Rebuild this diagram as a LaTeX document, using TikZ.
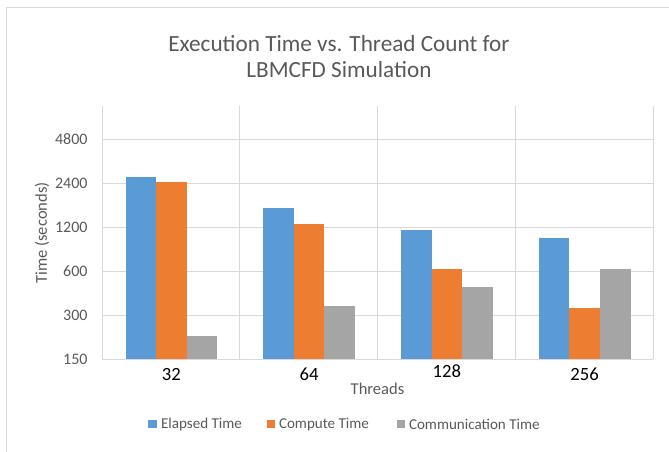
\documentclass[tikz,border=0pt]{standalone}
\usepackage{fontspec}
\setmainfont{Carlito}

\definecolor{gridgray}{HTML}{D9D9D9}
\definecolor{txtgray}{HTML}{595959}
\definecolor{elapsedblue}{HTML}{5B9BD5}
\definecolor{computeorange}{HTML}{ED7D31}
\definecolor{commgray}{HTML}{A5A5A5}

\tikzset{every picture/.style={line width=0.75pt}}
\tikzset{
  gridline/.style={draw=gridgray},
  elapsed/.style={fill=elapsedblue},
  compute/.style={fill=computeorange},
  comm/.style={fill=commgray},
  titletext/.style={anchor=base,inner sep=0.75pt,text=txtgray,font=\fontsize{17.4}{21}\selectfont},
  ticklabel/.style={anchor=east,inner sep=0.75pt,text=txtgray,font=\fontsize{12}{14}\selectfont},
  catlabel/.style={inner sep=0.75pt,font=\fontsize{14}{16}\selectfont},
  axistitle/.style={inner sep=0.75pt,text=txtgray,font=\fontsize{12.4}{15}\selectfont},
  legendtext/.style={anchor=west,inner sep=0pt,text=txtgray,font=\fontsize{11.3}{13}\selectfont},
}

\begin{document}
\begin{tikzpicture}[x=0.75pt,y=0.75pt,yscale=-1,xscale=1]
\useasboundingbox (0,0) rectangle (669,451);

%Shape: Rectangle [chart frame, runs off the page]
\begin{scope}
\clip (0,0) rectangle (669,451);
\draw [gridline] (6,7) -- (700,7) -- (700,480) -- (6,480) -- cycle ;
\end{scope}

%Straight Lines [horizontal grid]
\draw [gridline] (102,139) -- (653,139) ;
\draw [gridline] (102,183) -- (653,183) ;
\draw [gridline] (102,227) -- (653,227) ;
\draw [gridline] (102,271) -- (653,271) ;
\draw [gridline] (102,315) -- (653,315) ;
%Straight Lines [vertical grid]
\draw [gridline] (102,106) -- (102,359) ;
\draw [gridline] (239.75,106) -- (239.75,359) ;
\draw [gridline] (377.5,106) -- (377.5,359) ;
\draw [gridline] (515.25,106) -- (515.25,359) ;
\draw [gridline] (653,106) -- (653,359) ;

%Shape: Bars [32]
\fill [elapsed] (125.5,176.7) -- (156.1,176.7) -- (156.1,359) -- (125.5,359) -- cycle ;
\fill [compute] (156.1,182.3) -- (186.7,182.3) -- (186.7,359) -- (156.1,359) -- cycle ;
\fill [comm] (186.7,335.7) -- (217.3,335.7) -- (217.3,359) -- (186.7,359) -- cycle ;
%Shape: Bars [64]
\fill [elapsed] (263.2,207.7) -- (293.8,207.7) -- (293.8,359) -- (263.2,359) -- cycle ;
\fill [compute] (293.8,224) -- (324.4,224) -- (324.4,359) -- (293.8,359) -- cycle ;
\fill [comm] (324.4,305.7) -- (355,305.7) -- (355,359) -- (324.4,359) -- cycle ;
%Shape: Bars [128]
\fill [elapsed] (401,230) -- (431.6,230) -- (431.6,359) -- (401,359) -- cycle ;
\fill [compute] (431.6,269.3) -- (462.2,269.3) -- (462.2,359) -- (431.6,359) -- cycle ;
\fill [comm] (462.2,286.7) -- (492.8,286.7) -- (492.8,359) -- (462.2,359) -- cycle ;
%Shape: Bars [256]
\fill [elapsed] (538.7,238.3) -- (569.3,238.3) -- (569.3,359) -- (538.7,359) -- cycle ;
\fill [compute] (569.3,308.3) -- (599.9,308.3) -- (599.9,359) -- (569.3,359) -- cycle ;
\fill [comm] (599.9,268.7) -- (630.5,268.7) -- (630.5,359) -- (599.9,359) -- cycle ;

%Straight Lines [axis]
\draw [gridline] (102,359) -- (653,359) ;

% Text Node
\draw (339,51) node [titletext] (ttl1) {Execution Time vs. Thread Count for};
% Text Node
\draw (339,77) node [titletext] (ttl2) {LBMCFD Simulation};

% Text Node
\draw (89,139) node [ticklabel] (t4800) {4800};
% Text Node
\draw (89,183) node [ticklabel] (t2400) {2400};
% Text Node
\draw (89,227) node [ticklabel] (t1200) {1200};
% Text Node
\draw (89,271) node [ticklabel] (t600) {600};
% Text Node
\draw (89,315) node [ticklabel] (t300) {300};
% Text Node
\draw (89,359) node [ticklabel] (t150) {150};

% Text Node
\draw (42,233) node [axistitle,rotate=90] (ytitle) {Time (seconds)};

% Text Node
\draw (171.4,374) node [catlabel] (c32) {32};
% Text Node
\draw (309.1,374) node [catlabel] (c64) {64};
% Text Node
\draw (446.9,371) node [catlabel] (c128) {128};
% Text Node
\draw (584.6,374) node [catlabel] (c256) {256};
% Text Node
\draw (377.5,389) node [axistitle] (xtitle) {Threads};

%Shape: Legend keys
\fill [elapsed] (148.3,420) -- (156.7,420) -- (156.7,428.3) -- (148.3,428.3) -- cycle ;
\fill [compute] (266.7,420) -- (275,420) -- (275,428.3) -- (266.7,428.3) -- cycle ;
\fill [comm] (396.7,420) -- (405,420) -- (405,428.3) -- (396.7,428.3) -- cycle ;
% Text Node
\draw (160.5,424.5) node [legendtext] (lelapsed) {Elapsed Time};
% Text Node
\draw (278.5,424.5) node [legendtext] (lcompute) {Compute Time};
% Text Node
\draw (408.5,424.5) node [legendtext] (lcomm) {Communication Time};

\end{tikzpicture}
\end{document}
